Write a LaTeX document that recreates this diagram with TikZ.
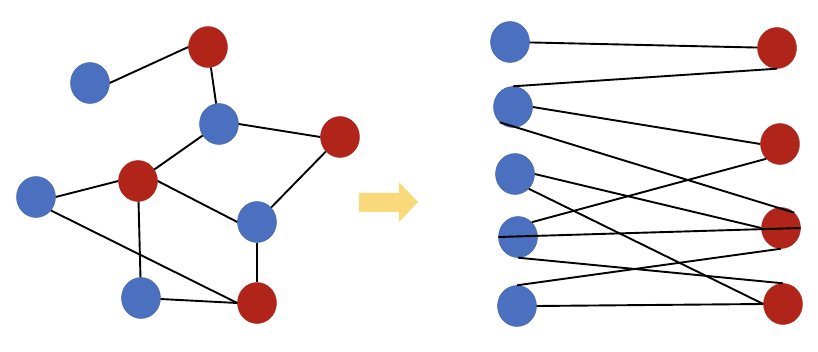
\documentclass[tikz,border=0pt]{standalone}
\usetikzlibrary{shapes.geometric}
\definecolor{nodeblue}{HTML}{4A70BF}
\definecolor{nodeblueedge}{HTML}{41629F}
\definecolor{nodered}{HTML}{B0241A}
\definecolor{arrowyellow}{HTML}{F9DA7A}
\begin{document}
\begin{tikzpicture}[x=1pt,y=-1pt,
  bnode/.style={ellipse,fill=nodeblue,draw=nodeblueedge,line width=0.4pt,minimum width=39pt,minimum height=41pt,inner sep=0pt},
  rnode/.style={ellipse,fill=nodered,draw=nodered,line width=0.4pt,minimum width=39pt,minimum height=41pt,inner sep=0pt},
  edge/.style={draw=black,line width=1.9pt}]
\useasboundingbox (0,0) rectangle (818,352);
% left graph
\node[bnode] (B1) at (90,83) {};
\node[rnode] (R1) at (208,47) {};
\node[bnode] (B2) at (219,124) {};
\node[rnode] (R2) at (340,137) {};
\node[rnode] (R3) at (138,181) {};
\node[bnode] (B3) at (36,197) {};
\node[bnode] (B4) at (257,222) {};
\node[bnode] (B5) at (141,298) {};
\node[rnode] (R4) at (257,303) {};
\draw[edge] (B1.east) -- (R1.west);
\draw[edge] (R1) -- (B2);
\draw[edge] (B2.east) -- (R2.west);
\draw[edge] (B2) -- (R3);
\draw[edge] (B3.east) -- (R3.west);
\draw[edge] (R3.east) -- (B4.west);
\draw[edge] (R2) -- (B4);
\draw[edge] (B4) -- (R4);
\draw[edge] (R3) -- (B5);
\draw[edge] (B5) -- (R4.west);
\draw[edge] (B3.-42) -- (R4.west);
% arrow
\fill[arrowyellow] (359,193) -- (399,193) -- (399,182) -- (418,202) -- (399,222) -- (399,212) -- (359,212) -- cycle;
% right bipartite graph
\node[bnode] (L1) at (510,42) {};
\node[bnode] (L2) at (513,107) {};
\node[bnode] (L3) at (515,174) {};
\node[bnode] (L4) at (518,237) {};
\node[bnode] (L5) at (517,306) {};
\node[rnode] (Q1) at (777,48) {};
\node[rnode] (Q2) at (780,144) {};
\node[rnode] (Q3) at (781,228) {};
\node[rnode] (Q4) at (783,304) {};
\draw[edge] (L1) -- (Q1);
\draw[edge] (L2.north) -- (Q1.south);
\draw[edge] (L2.east) -- (Q2.west);
\draw[edge] (L2.229) -- (Q3.49);
\draw[edge] (L3.east) -- (Q3.west);
\draw[edge] (L3.-47) -- (Q4.west);
\draw[edge] (L4.47) -- (Q2.-133);
\draw[edge] (L4.west) -- (Q3.east);
\draw[edge] (L4.south) -- (Q4.north);
\draw[edge] (L5.north) -- (Q3.south);
\draw[edge] (L5.east) -- (Q4.west);
\end{tikzpicture}
\end{document}
